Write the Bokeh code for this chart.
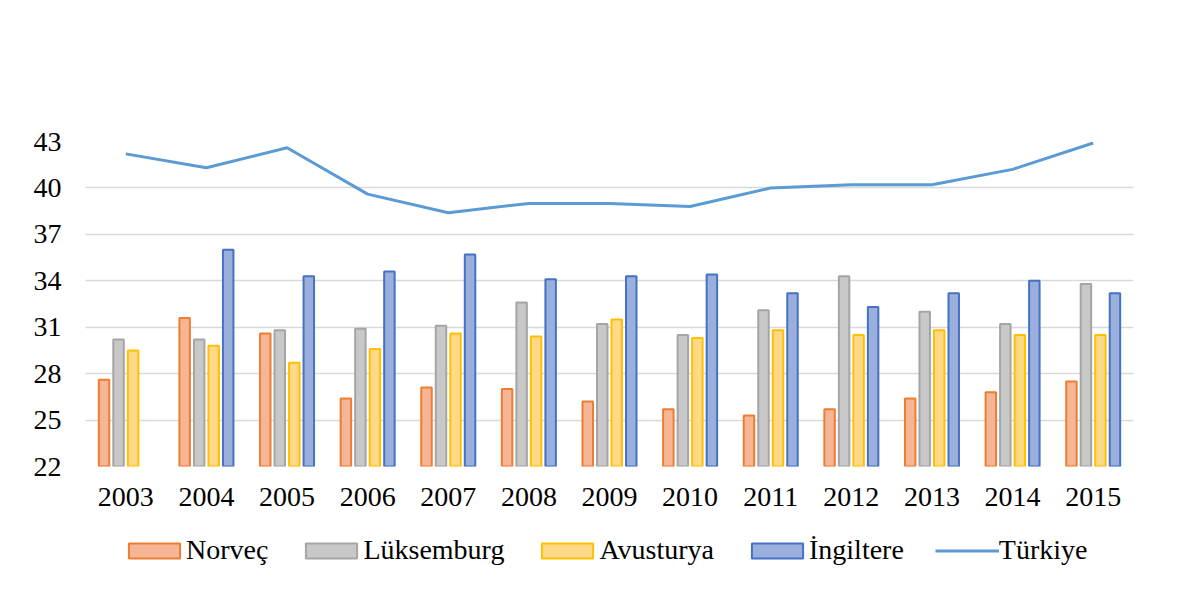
from bokeh.plotting import figure
from bokeh.layouts import column
from bokeh.models import ColumnDataSource, FactorRange, Range1d, FixedTicker, Legend, LegendItem
from bokeh.transform import dodge
from bokeh.embed import file_html
from bokeh.resources import INLINE

years = ["2003", "2004", "2005", "2006", "2007", "2008", "2009",
         "2010", "2011", "2012", "2013", "2014", "2015"]
norvec = [27.6, 31.6, 30.6, 26.4, 27.1, 27.0, 26.2, 25.7, 25.3, 25.7, 26.4, 26.8, 27.5]
luksemburg = [30.2, 30.2, 30.8, 30.9, 31.1, 32.6, 31.2, 30.5, 32.1, 34.3, 32.0, 31.2, 33.8]
avusturya = [29.5, 29.8, 28.7, 29.6, 30.6, 30.4, 31.5, 30.3, 30.8, 30.5, 30.8, 30.5, 30.5]
ingiltere = [None, 36.0, 34.3, 34.6, 35.7, 34.1, 34.3, 34.4, 33.2, 32.3, 33.2, 34.0, 33.2]
turkiye = [42.2, 41.3, 42.6, 39.6, 38.4, 39.0, 39.0, 38.8, 40.0, 40.2, 40.2, 41.2, 42.9]
y_ticks = [22, 25, 28, 31, 34, 37, 40, 43]

series = [
    ("Norveç", norvec, "#F6B594", "#ED7D31", -0.27),
    ("Lüksemburg", luksemburg, "#C8C8C8", "#A5A5A5", -0.09),
    ("Avusturya", avusturya, "#FFD888", "#FFC000", 0.09),
    ("İngiltere", ingiltere, "#9BAFDD", "#4472C4", 0.27),
]
LINE_COLOR = "#5B9BD5"
FONT = "Liberation Serif"
FS = "28px"

xr = FactorRange(factors=years, range_padding=0)

p = figure(width=1198, height=512, output_backend="svg", toolbar_location=None,
           x_range=xr, y_range=Range1d(22, 43),
           min_border_left=85, min_border_right=65, min_border_top=141, min_border_bottom=46)
p.outline_line_color = None
p.background_fill_color = "white"
p.border_fill_color = "white"

# legend strip below the chart (its renderers are hidden; only the legend shows)
lg = figure(width=1198, height=78, output_backend="svg", toolbar_location=None,
            x_range=xr, y_range=Range1d(-1000, -999),
            x_axis_location=None, y_axis_location=None,
            min_border_left=0, min_border_right=0, min_border_top=0, min_border_bottom=0)
lg.grid.visible = False
lg.outline_line_color = None
lg.background_fill_color = "white"
lg.border_fill_color = "white"

items = []
for name, vals, fill, line, off in series:
    xs = [y for y, v in zip(years, vals) if v is not None]
    tops = [v for v in vals if v is not None]
    src = ColumnDataSource(dict(year=xs, top=tops))
    kw = dict(x=dodge("year", off, range=xr), top="top", bottom=22, width=0.13,
              source=src, fill_color=fill, line_color=line, line_width=2)
    p.vbar(**kw)
    lr_ = lg.vbar(**kw)
    lr_.visible = False
    items.append(LegendItem(label=name, renderers=[lr_]))

lsrc = ColumnDataSource(dict(year=years, val=turkiye))
p.line(x="year", y="val", source=lsrc, line_color=LINE_COLOR, line_width=3)
ll = lg.line(x="year", y="val", source=lsrc, line_color=LINE_COLOR, line_width=3)
ll.visible = False
items.append(LegendItem(label="Türkiye", renderers=[ll]))

p.yaxis.ticker = FixedTicker(ticks=y_ticks)
p.ygrid.ticker = FixedTicker(ticks=y_ticks)
p.ygrid.grid_line_color = "#D9D9D9"
p.ygrid.grid_line_width = 1.5
p.xgrid.grid_line_color = None

for ax in (p.xaxis[0], p.yaxis[0]):
    ax.axis_line_color = None
    ax.major_tick_line_color = None
    ax.minor_tick_line_color = None
    ax.major_tick_out = 0
    ax.major_tick_in = 0
    ax.minor_tick_out = 0
    ax.major_label_text_font = FONT
    ax.major_label_text_font_size = FS
    ax.major_label_text_color = "black"
p.yaxis.major_label_standoff = 24
p.xaxis.major_label_standoff = 21

legend = Legend(items=items, orientation="horizontal", location=(37, 24),
                glyph_width=64, glyph_height=19, label_standoff=-2, spacing=31,
                label_text_font=FONT, label_text_font_size=FS, label_text_color="black",
                border_line_color=None, background_fill_alpha=0, margin=0, padding=6,
                inactive_fill_alpha=0)
lg.add_layout(legend, "center")

layout = column(p, lg, spacing=0)
open("out.html", "w").write(file_html(layout, INLINE))
